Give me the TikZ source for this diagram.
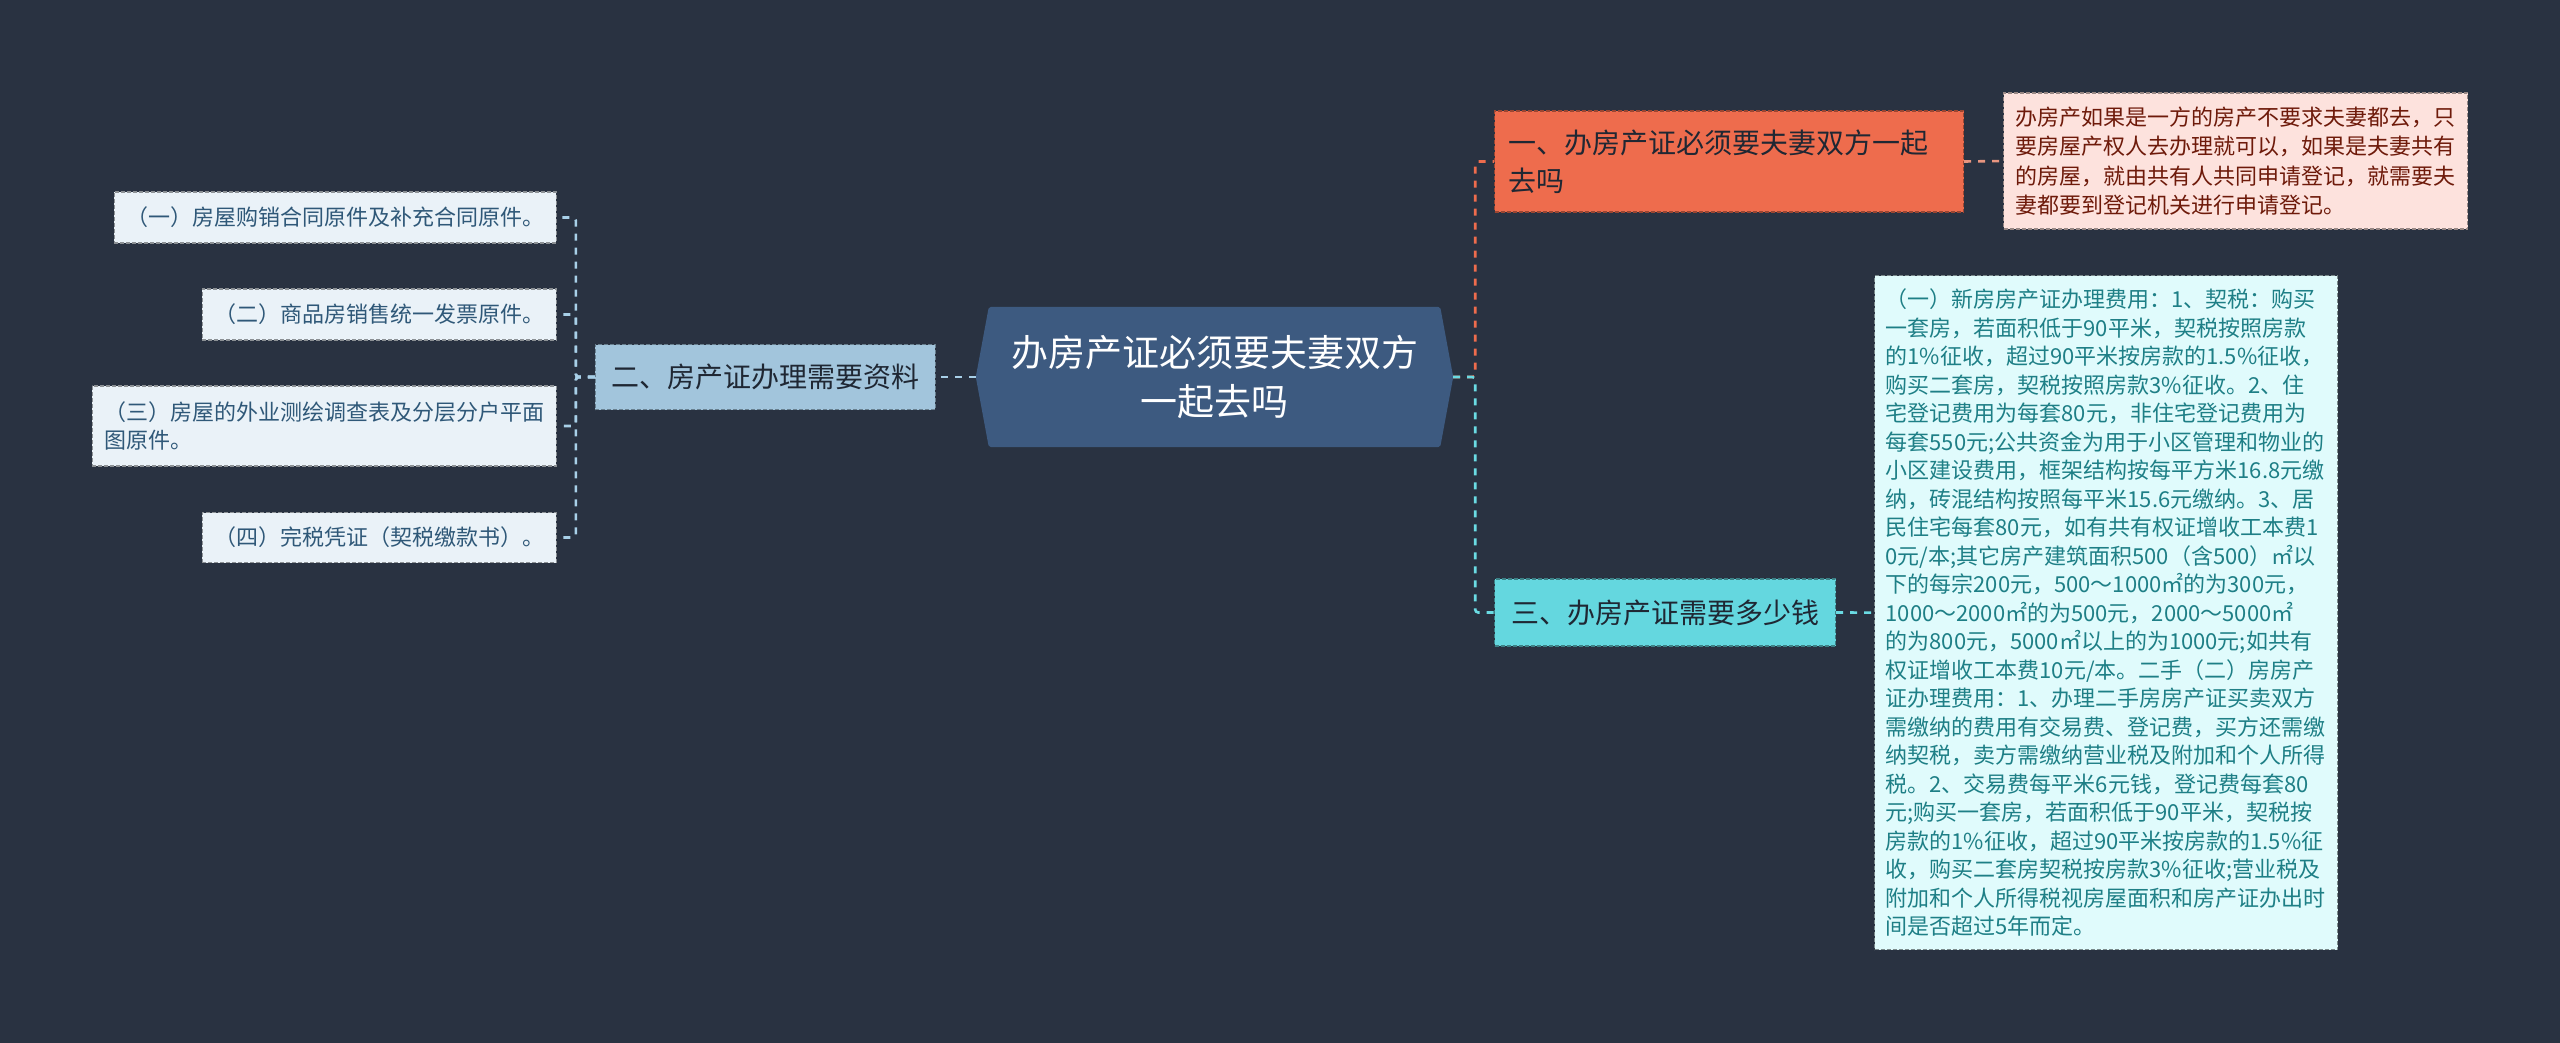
\documentclass[tikz,border=0pt]{standalone}
\usepackage{fontspec}
\setmainfont{Noto Sans CJK SC}
\usepackage{xcolor}
\usepackage{tikz}
\usetikzlibrary{positioning, calc, backgrounds}
\definecolor{MapBg}{HTML}{293241}
\definecolor{RootFill}{HTML}{3D5A80}
\definecolor{DocFill}{HTML}{A2C5DC}
\definecolor{DocLeaf}{HTML}{EAF2F8}
\definecolor{DocText}{HTML}{2F5878}
\definecolor{AskFill}{HTML}{EE6C4D}
\definecolor{AskLeaf}{HTML}{FDE2DD}
\definecolor{AskText}{HTML}{6E1A0A}
\definecolor{CostFill}{HTML}{64D7DF}
\definecolor{CostLeaf}{HTML}{E0FBFC}
\definecolor{CostText}{HTML}{1E7F86}
\definecolor{DarkText}{HTML}{1F2733}
\definecolor{LinkBlue}{HTML}{A8D0E8}
\definecolor{LinkCyan}{HTML}{6ADBE3}
\definecolor{LinkPink}{HTML}{E8957F}

\tikzset{
  dashbox/.style={rectangle, line width=1.2pt, dash pattern=on 4pt off 2pt, inner sep=0pt},
  branchfont/.style={font=\fontsize{28}{37.6}\selectfont},
  leaffont/.style={font=\fontsize{22}{28.5}\selectfont},
  linkline/.style={line width=2.6pt, dash pattern=on 7pt off 7pt, rounded corners=3pt},
}

\begin{document}
\begin{tikzpicture}[x=1pt, y=-1pt]
  \useasboundingbox (0,0) rectangle (2560,1043);
  \begin{scope}[on background layer]
    \fill[MapBg] (0,0) rectangle (2560,1043);
  \end{scope}

  \node[minimum width=477pt, minimum height=140pt, inner sep=0pt, align=center,
    text=white, font=\fontsize{37}{49}\selectfont] (root) at (1214.5,377)
    {办房产证必须要夫妻双方\\一起去吗};
  \begin{scope}[on background layer]
    \fill[RootFill, rounded corners=2pt] (root.west) -- ([xshift=13pt]root.north west)
      -- ([xshift=-13pt]root.north east) -- (root.east)
      -- ([xshift=-13pt]root.south east) -- ([xshift=13pt]root.south west) -- cycle;
  \end{scope}

  % left branch
  \node[dashbox, branchfont, fill=DocFill, draw=DocFill!65!black, text=DarkText,
    minimum width=340pt, minimum height=65pt, anchor=east] (docs) at (936,377)
    {二、房产证办理需要资料};
  \node[dashbox, leaffont, fill=DocLeaf, draw=DocLeaf!60!black, text=DocText,
    minimum width=442pt, minimum height=51pt, anchor=east] (doc1) at (557,217.5)
    {（一）房屋购销合同原件及补充合同原件。};
  \node[dashbox, leaffont, fill=DocLeaf, draw=DocLeaf!60!black, text=DocText,
    minimum width=354pt, minimum height=51pt, anchor=east] (doc2) at (557,314.5)
    {（二）商品房销售统一发票原件。};
  \node[dashbox, leaffont, fill=DocLeaf, draw=DocLeaf!60!black, text=DocText,
    minimum width=464pt, minimum height=80pt, inner xsep=12pt, text width=440pt,
    align=left, anchor=east] (doc3) at (557,426)
    {（三）房屋的外业测绘调查表及分层分户平面\\图原件。};
  \node[dashbox, leaffont, fill=DocLeaf, draw=DocLeaf!60!black, text=DocText,
    minimum width=354pt, minimum height=50pt, anchor=east] (doc4) at (557,537.5)
    {（四）完税凭证（契税缴款书）。};

  % right branches
  \node[dashbox, branchfont, fill=AskFill, draw=AskFill!65!black, text=DarkText,
    minimum width=469pt, minimum height=101pt, inner xsep=14pt, text width=441pt,
    align=left, anchor=west] (ask) at (1494,161.5)
    {一、办房产证必须要夫妻双方一起\\去吗};
  \node[dashbox, font=\fontsize{22}{29.4}\selectfont, fill=AskLeaf, draw=AskLeaf!60!black,
    text=AskText, minimum width=464pt, minimum height=136pt, inner xsep=12pt,
    text width=440pt, align=left, anchor=west] (askleaf) at (2003,161)
    {办房产如果是一方的房产不要求夫妻都去，只\\
     要房屋产权人去办理就可以，如果是夫妻共有\\
     的房屋，就由共有人共同申请登记，就需要夫\\
     妻都要到登记机关进行申请登记。};

  \node[dashbox, branchfont, fill=CostFill, draw=CostFill!60!black, text=DarkText,
    minimum width=341pt, minimum height=67pt, anchor=west] (cost) at (1494,612.5)
    {三、办房产证需要多少钱};
  \node[dashbox, leaffont, fill=CostLeaf, draw=CostLeaf!55!black, text=CostText,
    minimum width=463pt, minimum height=674pt, inner xsep=11pt, text width=441pt,
    align=left, anchor=north west] (costleaf) at (1874,275)
    {（一）新房房产证办理费用：1、契税：购买\\
     一套房，若面积低于90平米，契税按照房款\\
     的1\%征收，超过90平米按房款的1.5\%征收，\\
     购买二套房，契税按照房款3\%征收。2、住\\
     宅登记费用为每套80元，非住宅登记费用为\\
     每套550元;公共资金为用于小区管理和物业的\\
     小区建设费用，框架结构按每平方米16.8元缴\\
     纳，砖混结构按照每平米15.6元缴纳。3、居\\
     民住宅每套80元，如有共有权证增收工本费1\\
     0元/本;其它房产建筑面积500（含500）㎡以\\
     下的每宗200元，500～1000㎡的为300元，\\
     1000～2000㎡的为500元，2000～5000㎡\\
     的为800元，5000㎡以上的为1000元;如共有\\
     权证增收工本费10元/本。二手（二）房房产\\
     证办理费用：1、办理二手房房产证买卖双方\\
     需缴纳的费用有交易费、登记费，买方还需缴\\
     纳契税，卖方需缴纳营业税及附加和个人所得\\
     税。2、交易费每平米6元钱，登记费每套80\\
     元;购买一套房，若面积低于90平米，契税按\\
     房款的1\%征收，超过90平米按房款的1.5\%征\\
     收，购买二套房契税按房款3\%征收;营业税及\\
     附加和个人所得税视房屋面积和房产证办出时\\
     间是否超过5年而定。};

  % connectors
  \draw[linkline, LinkBlue] (root.west) -- (docs.east);
  \foreach \leaf in {doc1, doc2, doc3, doc4}
    \draw[linkline, LinkBlue] (docs.west) -- ++(-19,0) |- (\leaf.east);
  \draw[linkline, AskFill] (root.east) -- ++(22,0) |- (ask.west);
  \draw[linkline, LinkCyan] (root.east) -- ++(22,0) |- (cost.west);
  \draw[linkline, LinkPink] (ask.east) -- (askleaf.west);
  \draw[linkline, LinkCyan] (cost.east) -- (costleaf.west);
\end{tikzpicture}
\end{document}
